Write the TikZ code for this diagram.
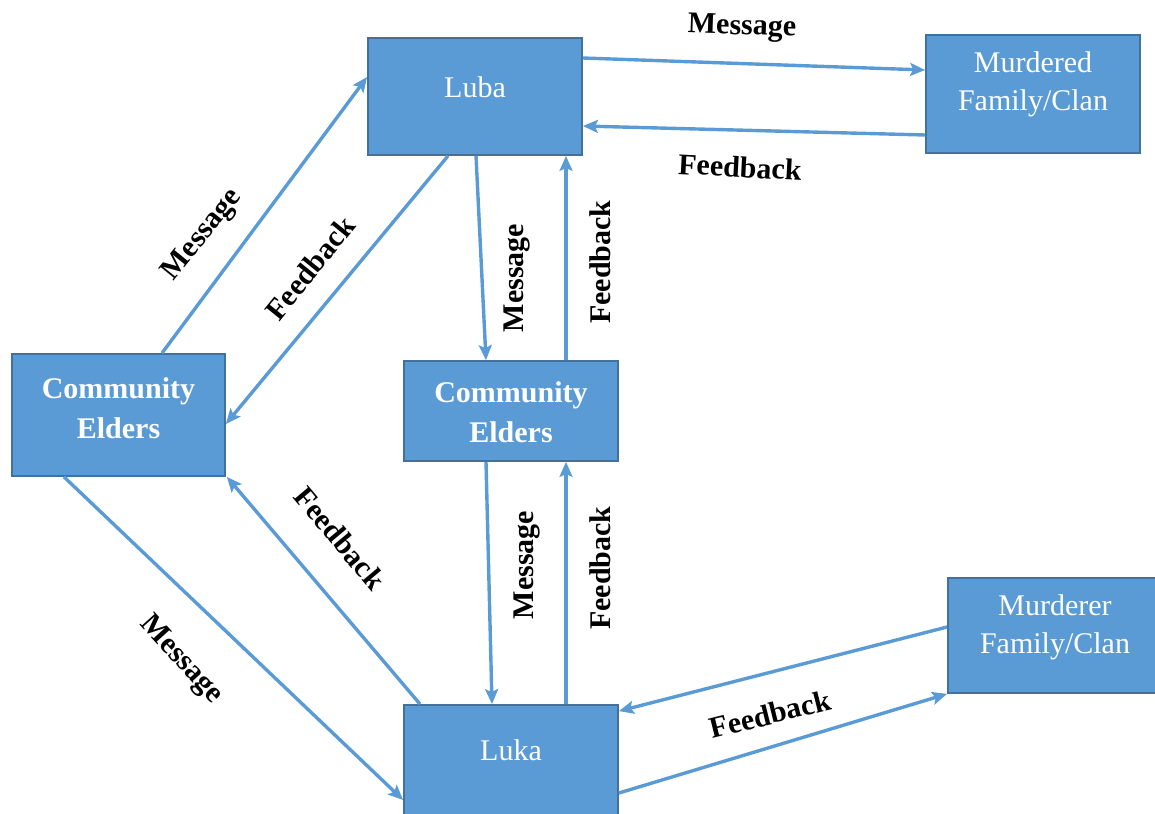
\documentclass[tikz,border=0pt]{standalone}
\usepackage{fontspec}
\setmainfont{Liberation Serif}
\usetikzlibrary{arrows.meta}
\definecolor{boxfill}{HTML}{5B9BD5}
\definecolor{boxline}{HTML}{41719C}
\definecolor{flow}{HTML}{5B9BD5}
\begin{document}
\begin{tikzpicture}[x=1pt,y=-1pt,
  box/.style={draw=boxline,fill=boxfill,line width=1.8pt,inner sep=0pt},
  btext/.style={text=white,align=center,font=\fontsize{30}{38}\selectfont},
  bbold/.style={btext,font=\fontsize{30}{40}\selectfont\bfseries},
  lbl/.style={font=\fontsize{30}{36}\selectfont\bfseries,inner sep=0pt},
  flowarrow/.style={draw=flow,line width=3.4pt,-{Stealth[length=15pt,width=13pt,inset=3pt]}}]
\useasboundingbox (0,0) rectangle (1155,813);
\clip (0,0) rectangle (1155,813);

% boxes
\node[box,minimum width=214pt,minimum height=117pt] (luba) at (475,96.5) {};
\node[box,minimum width=214pt,minimum height=118pt] (murdered) at (1033,94) {};
\node[box,minimum width=213pt,minimum height=122pt] (ceL) at (118.5,415) {};
\node[box,minimum width=214pt,minimum height=100pt] (ceM) at (511,411) {};
\node[box,minimum width=214pt,minimum height=125pt] (luka) at (511,767.5) {};
\node[box,minimum width=214pt,minimum height=115pt] (murderer) at (1055,635.5) {};

% box texts
\node[btext] (lubaT) at (475,87) {Luba};
\node[btext] (murderedT) at (1033,84) {Murdered\\Family/Clan};
\node[bbold] (ceLT) at (118.5,408) {Community\\Elders};
\node[bbold] (ceMT) at (511,412) {Community\\Elders};
\node[btext] (lukaT) at (511,750) {Luka};
\node[btext] (murdererT) at (1055,627) {Murderer\\Family/Clan};

% connectors
\draw[flowarrow] ([yshift=38.5pt]luba.east) -- ([yshift=24pt]murdered.west);
\draw[flowarrow] ([yshift=-41pt]murdered.west) -- ([yshift=-29.5pt]luba.east);
\draw[flowarrow] ([xshift=43.5pt]ceL.north) -- ([yshift=19.5pt]luba.west);
\draw[flowarrow] ([xshift=-27pt]luba.south) -- ([yshift=-9pt]ceL.east);
\draw[flowarrow] ([xshift=1pt]luba.south) -- ([xshift=-25pt]ceM.north);
\draw[flowarrow] ([xshift=55pt]ceM.north) -- ([xshift=91pt]luba.south);
\draw[flowarrow] ([xshift=-25pt]ceM.south) -- ([xshift=-19pt]luka.north);
\draw[flowarrow] ([xshift=55pt]luka.north) -- ([xshift=55pt]ceM.south);
\draw[flowarrow] ([xshift=-54.5pt]ceL.south) -- ([yshift=-32.5pt]luka.west);
\draw[flowarrow] ([xshift=-91pt]luka.north) -- ([xshift=1pt]ceL.south east);
\draw[flowarrow] ([yshift=8.5pt]murderer.west) -- ([yshift=-7pt]luka.north east);
\draw[flowarrow] ([yshift=-25.5pt]luka.east) -- (murderer.south west);

% connector labels
\node[lbl,rotate=-2] (m1) at (742,28) {Message};
\node[lbl,rotate=-3] (f1) at (740,167) {Feedback};
\node[lbl,rotate=51] (m2) at (203,235) {Message};
\node[lbl,rotate=51] (f2) at (310,268) {Feedback};
\node[lbl,rotate=90] (m3) at (517,278) {Message};
\node[lbl,rotate=90] (f3) at (600,262) {Feedback};
\node[lbl,rotate=90] (m4) at (527,565) {Message};
\node[lbl,rotate=90] (f4) at (600,568) {Feedback};
\node[lbl,rotate=-48] (m5) at (181,660) {Message};
\node[lbl,rotate=-50] (f5) at (340,538) {Feedback};
\node[lbl,rotate=14] (f6) at (770,714) {Feedback};
\end{tikzpicture}
\end{document}
